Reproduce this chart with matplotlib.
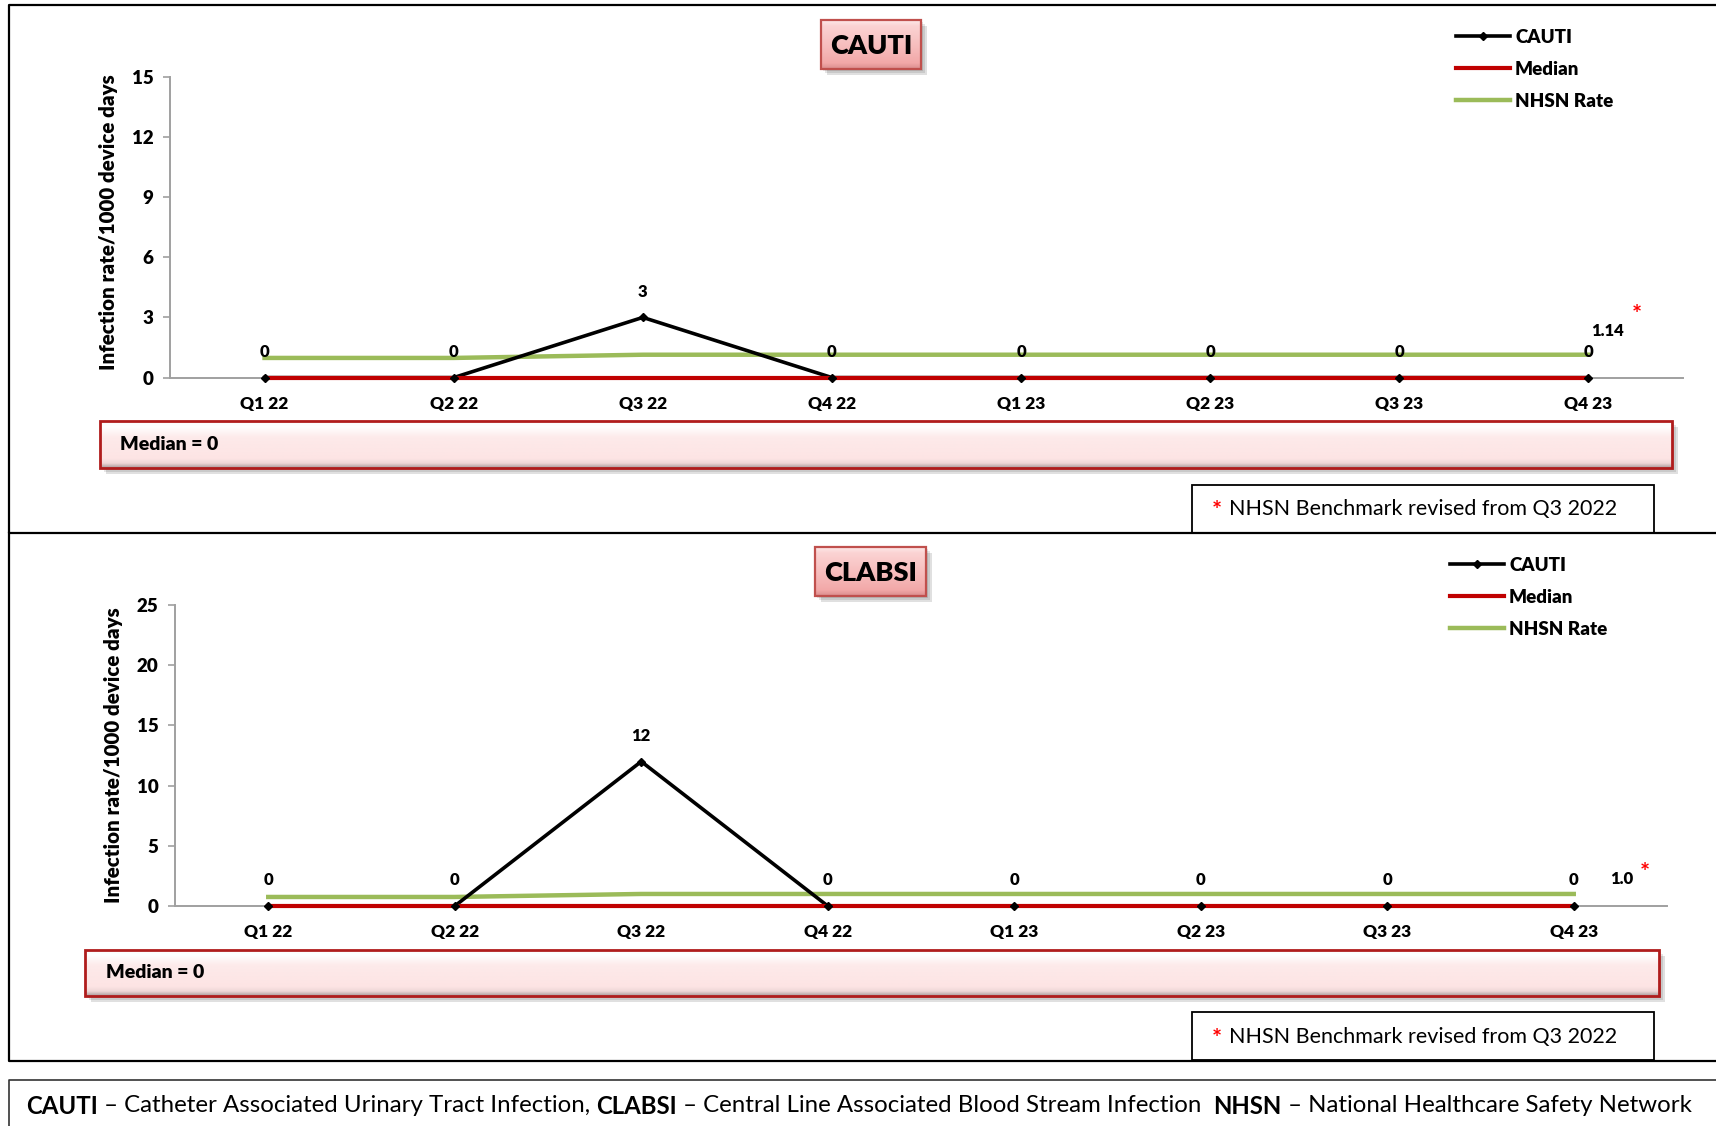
import matplotlib
matplotlib.use('Agg')
import matplotlib.pyplot as plt
import numpy as np
from matplotlib.patches import Rectangle
from matplotlib.lines import Line2D
from matplotlib.colors import to_rgb

plt.rcParams['font.family'] = ['Lato', 'DejaVu Sans']

# ---------------- data ----------------
quarters = ['Q1 22', 'Q2 22', 'Q3 22', 'Q4 22', 'Q1 23', 'Q2 23', 'Q3 23', 'Q4 23']
cauti_rate = [0, 0, 3, 0, 0, 0, 0, 0]
cauti_median = [0, 0, 0, 0, 0, 0, 0, 0]
cauti_nhsn = [0.98, 0.98, 1.14, 1.14, 1.14, 1.14, 1.14, 1.14]
cauti_yticks = [0, 3, 6, 9, 12, 15]
cauti_nhsn_label = '1.14'

clabsi_rate = [0, 0, 12, 0, 0, 0, 0, 0]
clabsi_median = [0, 0, 0, 0, 0, 0, 0, 0]
clabsi_nhsn = [0.75, 0.75, 1.0, 1.0, 1.0, 1.0, 1.0, 1.0]
clabsi_yticks = [0, 5, 10, 15, 20, 25]
clabsi_nhsn_label = '1.0'

legend_labels = ['CAUTI', 'Median', 'NHSN Rate']
ylabel = 'Infection rate/1000 device days'
benchmark_note = 'NHSN Benchmark revised from Q3 2022'
footer_pieces = [('CAUTI', 'bold'), (' \u2013 Catheter Associated Urinary Tract Infection, ', 'normal'),
                 ('CLABSI', 'bold'), (' \u2013 Central Line Associated Blood Stream Infection  ', 'normal'),
                 ('NHSN', 'bold'), (' \u2013 National Healthcare Safety Network', 'normal')]

# ---------------- figure ----------------
W, H = 1716, 1126
fig = plt.figure(figsize=(W / 100, H / 100), dpi=100)
fig.patch.set_facecolor('white')


def fx(x):
    return x / W


def fy(y):
    return 1 - y / H


def rect_axes(x0, y0, x1, y1, zorder=0):
    return fig.add_axes([fx(x0), fy(y1), (x1 - x0) / W, (y1 - y0) / H], zorder=zorder)


def gradient_box(x0, y0, x1, y1, stops, edge, lw, shadow=True, z=1):
    if shadow:
        for i, a in enumerate([0.10, 0.10, 0.12]):
            d = 2 + 2 * i
            fig.patches.append(Rectangle((fx(x0 + d), fy(y1 + d)), (x1 - x0) / W, (y1 - y0) / H,
                                         transform=fig.transFigure, facecolor='black', alpha=a,
                                         edgecolor='none', zorder=z - 0.5))
    ax = rect_axes(x0, y0, x1, y1, zorder=z)
    n = 200
    pos = np.array([s[0] for s in stops])
    cols = np.array([to_rgb(s[1]) for s in stops])
    t = np.linspace(0, 1, n)
    img = np.stack([np.interp(t, pos, cols[:, k]) for k in range(3)], axis=-1)[:, None, :]
    img = np.repeat(img, 4, axis=1)
    ax.imshow(img, aspect='auto', extent=[0, 1, 0, 1], origin='upper')
    ax.set_axis_off()
    fig.patches.append(Rectangle((fx(x0), fy(y1)), (x1 - x0) / W, (y1 - y0) / H,
                                 transform=fig.transFigure, facecolor='none', edgecolor=edge,
                                 linewidth=lw, zorder=z + 0.5))


def frame_line(xs, ys, lw=1.6, color='black'):
    fig.lines.append(Line2D([fx(v) for v in xs], [fy(v) for v in ys], transform=fig.transFigure,
                            color=color, linewidth=lw, zorder=10))


# outer frames
frame_line([1716, 9, 9, 1716], [5, 5, 533, 533])
frame_line([9, 9, 1716], [533, 1061, 1061])
frame_line([1716, 9, 9], [1080, 1080, 1130], lw=1.2, color='#333333')

title_stops = [(0, '#fdeaea'), (0.12, '#fbd3d3'), (0.6, '#f6b9b9'), (0.88, '#f2a8a8'), (1, '#d98c8c')]
median_stops = [(0, '#fafafa'), (0.12, '#ffffff'), (0.35, '#fdeaea'), (0.8, '#fde4e4'), (0.9, '#eed6d6'), (1, '#a89a9a')]

panels = [
    dict(rate=cauti_rate, median=cauti_median, nhsn=cauti_nhsn, yticks=cauti_yticks,
         nhsn_label=cauti_nhsn_label, title='CAUTI',
         ax=(170, 76.6, 1683, 377.6), title_box=(821, 20, 921, 69),
         legend=(1456, 29), ylab=(109, 222), median_box=(100, 421, 1672, 468), median_text=(120, 445),
         bench_box=(1192, 485, 1654, 533), bench_text=(1212, 509),
         nhsn_off=(13.7, 17.3), star_off=(34.6, 28.5)),
    dict(rate=clabsi_rate, median=clabsi_median, nhsn=clabsi_nhsn, yticks=clabsi_yticks,
         nhsn_label=clabsi_nhsn_label, title='CLABSI',
         ax=(175, 605, 1667, 906), title_box=(815, 547, 926, 596),
         legend=(1450, 557), ylab=(114, 755), median_box=(85, 950, 1659, 996), median_text=(106, 973),
         bench_box=(1192, 1012, 1654, 1060), bench_text=(1212, 1037),
         nhsn_off=(34.6, 10.8), star_off=(51, 14.4)),
]

green = '#9bbb59'
red = '#c00000'

for p in panels:
    x0, y0, x1, y1 = p['ax']
    ax = rect_axes(x0, y0, x1, y1, zorder=2)
    ax.set_facecolor('none')
    xs = np.arange(len(quarters))
    ax.plot(xs, p['nhsn'], color=green, lw=3.2, zorder=2, clip_on=False)
    ax.plot(xs, p['rate'], color='black', lw=2.6, zorder=3, clip_on=False)
    ax.plot(xs, p['median'], color=red, lw=3.0, zorder=4, clip_on=False)
    ax.plot(xs, p['rate'], ls='none', marker='D', ms=4.5, color='black', zorder=5, clip_on=False)
    for xi, v in zip(xs, p['rate']):
        ax.annotate(f'{v:g}', (xi, v), xytext=(0, 18.5), textcoords='offset points',
                    ha='center', va='center', fontweight='heavy', fontsize=12)
    ax.annotate(p['nhsn_label'], (xs[-1], p['nhsn'][-1]), xytext=p['nhsn_off'], textcoords='offset points',
                ha='center', va='center', fontweight='heavy', fontsize=12)
    ax.annotate('*', (xs[-1], p['nhsn'][-1]), xytext=p['star_off'], textcoords='offset points',
                ha='center', va='center', fontweight='bold', fontsize=17, color='red')
    ax.set_xlim(-0.5, len(quarters) - 0.5)
    ax.set_ylim(p['yticks'][0], p['yticks'][-1])
    ax.set_xticks(xs)
    ax.set_xticklabels(quarters, fontweight='heavy', fontsize=12.5)
    ax.set_yticks(p['yticks'])
    ax.set_yticklabels([str(v) for v in p['yticks']], fontweight='heavy', fontsize=13.5)
    ax.tick_params(axis='x', length=0, pad=13)
    ax.tick_params(axis='y', length=5, width=1.2, color='#a0a0a0', pad=7)
    for s in ['top', 'right']:
        ax.spines[s].set_visible(False)
    for s in ['left', 'bottom']:
        ax.spines[s].set_color('#a0a0a0')
        ax.spines[s].set_linewidth(1.4)

    fig.text(fx(p['ylab'][0]), fy(p['ylab'][1]), ylabel, rotation=90, ha='center', va='center',
             fontweight='heavy', fontsize=14.8)

    # title box
    tx0, ty0, tx1, ty1 = p['title_box']
    gradient_box(tx0, ty0, tx1, ty1, title_stops, '#c0504d', 1.6, z=3)
    fig.text(fx((tx0 + tx1) / 2), fy((ty0 + ty1) / 2 + 1), p['title'], ha='center', va='center',
             fontweight='heavy', fontsize=19.5, zorder=5)

    # legend
    handles = [Line2D([], [], color='black', lw=2.6, marker='D', ms=4.5),
               Line2D([], [], color=red, lw=3.0),
               Line2D([], [], color=green, lw=3.2)]
    fig.legend(handles, legend_labels, loc='upper left',
               bbox_to_anchor=(fx(p['legend'][0]), fy(p['legend'][1])), frameon=False,
               prop=dict(weight='heavy', size=13.5), handlelength=2.9, handletextpad=0.25,
               labelspacing=0.8, borderpad=0, borderaxespad=0)

    # median box
    mx0, my0, mx1, my1 = p['median_box']
    gradient_box(mx0, my0, mx1, my1, median_stops, '#b01c1c', 2.0, z=3)
    fig.text(fx(p['median_text'][0]), fy(p['median_text'][1]), 'Median = 0', ha='left', va='center',
             fontweight='heavy', fontsize=14, zorder=5)

    # benchmark box
    bx0, by0, bx1, by1 = p['bench_box']
    fig.patches.append(Rectangle((fx(bx0), fy(by1)), (bx1 - bx0) / W, (by1 - by0) / H,
                                 transform=fig.transFigure, facecolor='white', edgecolor='black',
                                 linewidth=1.3, zorder=4))
    fig.text(fx(p['bench_text'][0]), fy(p['bench_text'][1] + 3), '*', ha='left', va='center',
             color='red', fontsize=17, fontweight='bold', zorder=5)
    fig.text(fx(p['bench_text'][0] + 17), fy(p['bench_text'][1]), benchmark_note, ha='left', va='center',
             fontsize=15.5, zorder=5)

# footer with auto-fit width
renderer = fig.canvas.get_renderer()


def place_pieces(size):
    texts = []
    x = 26
    for s, w in footer_pieces:
        t = fig.text(fx(x), fy(1106), s, ha='left', va='center', fontweight=w, fontsize=size, zorder=5)
        bb = t.get_window_extent(renderer=renderer)
        x += bb.width
        texts.append(t)
    return texts, x - 26


texts, width = place_pieces(16)
target = 1673
for t in texts:
    t.remove()
place_pieces(16 * target / width)

fig.savefig('out.png', dpi=100, facecolor='white')
